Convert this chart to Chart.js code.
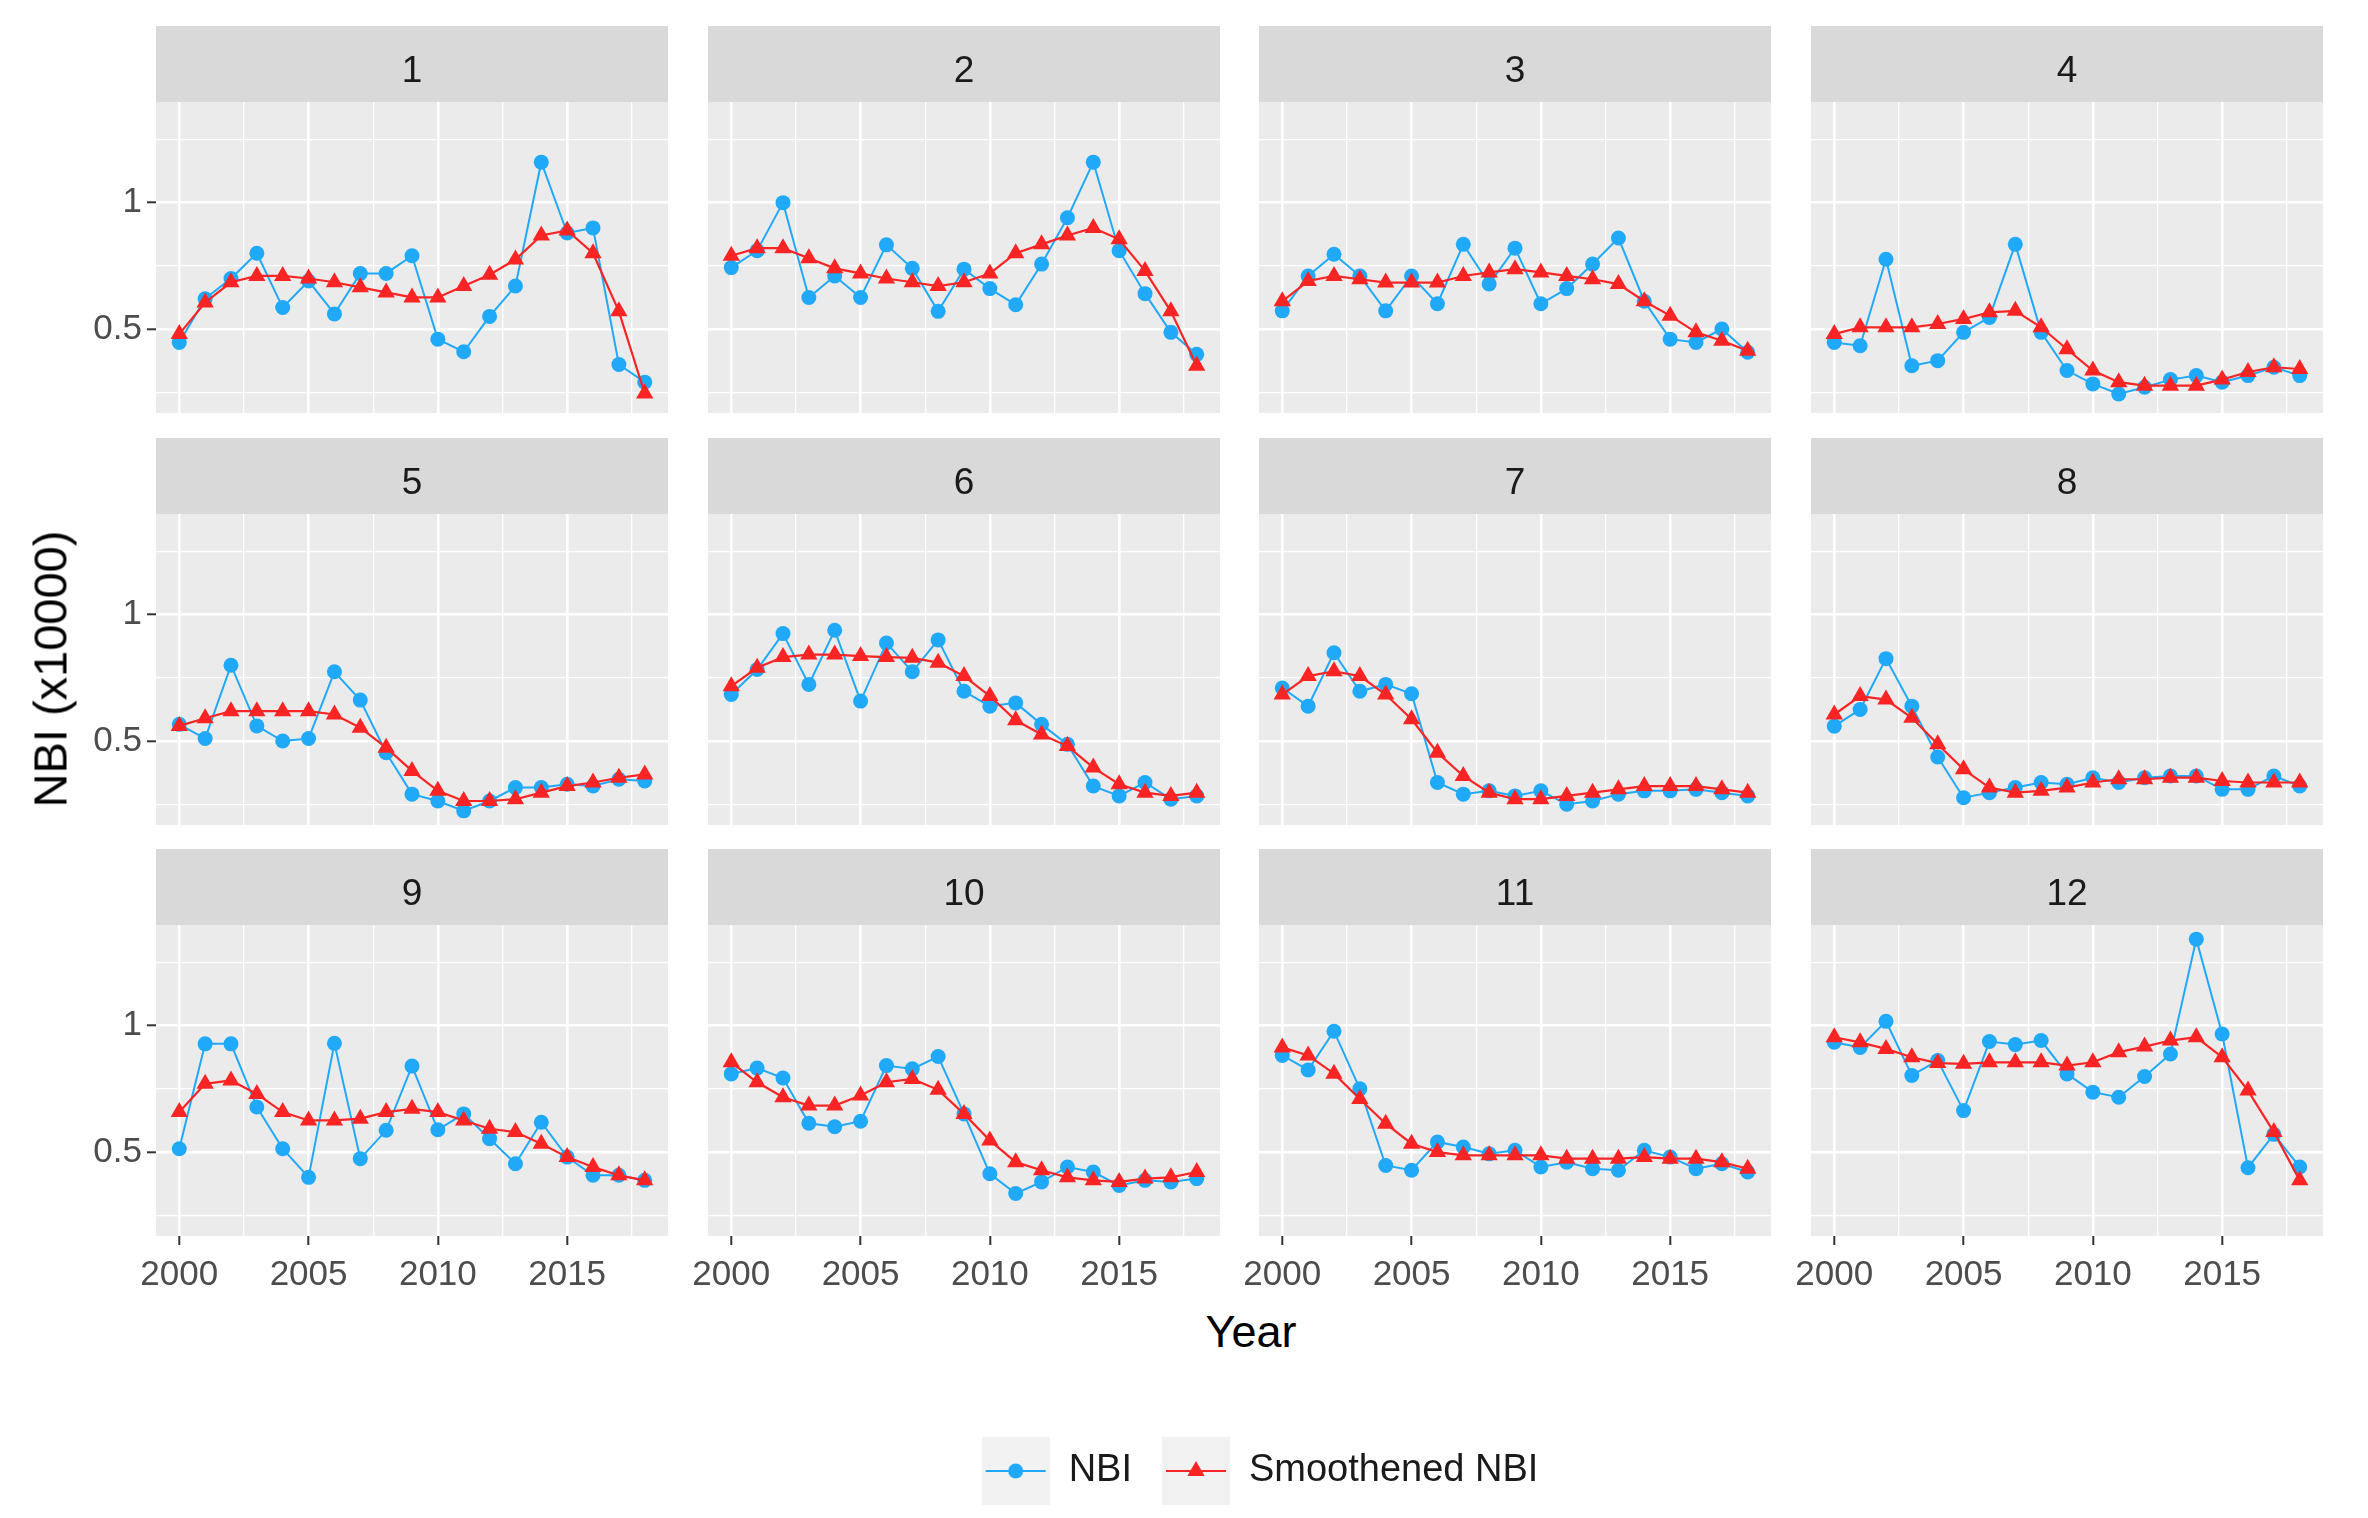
<!DOCTYPE html>
<html>
<head>
<meta charset="utf-8">
<script src="https://cdn.jsdelivr.net/npm/chart.js@4.4.1/dist/chart.umd.min.js"></script>
<style>
  html, body { margin: 0; padding: 0; background: #fff; }
  body { width: 2368px; height: 1518px; position: relative; overflow: hidden; font-family: "Liberation Sans", Arial, sans-serif; }
  .box { position: absolute; }
  .axis-title { position: absolute; font-size: 45px; color: #000; white-space: nowrap; transform: translate(-50%, -50%); }
  #yTitle { font-size: 47px; transform: translate(-50%, -50%) rotate(-90deg); }
</style>
</head>
<body>
<div id="panels"></div>
<div class="axis-title" id="xTitle" style="left:1251px; top:1332px;">Year</div>
<div class="axis-title" id="yTitle" style="left:50px; top:669px;">NBI (x10000)</div>
<div class="box" id="legendBox" style="left:760px; top:1422px; width:1000px; height:200px;"><canvas id="legendChart"></canvas></div>
<script>
// Data: NBI (x10000) per region, 2000-2018
const years = [2000, 2001, 2002, 2003, 2004, 2005, 2006, 2007, 2008, 2009,
               2010, 2011, 2012, 2013, 2014, 2015, 2016, 2017, 2018];
const panelLabels = ['1', '2', '3', '4', '5', '6', '7', '8', '9', '10', '11', '12'];
const seriesLabels = ['NBI', 'Smoothened NBI'];
const xTickValues = [2000, 2002.5, 2005, 2007.5, 2010, 2012.5, 2015, 2017.5];
const xTickLabels = ['2000', '', '2005', '', '2010', '', '2015', ''];
const yTickValues = [0.25, 0.5, 0.75, 1, 1.25];
const yTickLabels = ['', '0.5', '', '1', ''];

const nbiSeries = [
  [0.447, 0.62, 0.70, 0.80, 0.585, 0.69, 0.56, 0.72, 0.72, 0.79, 0.46, 0.41, 0.55, 0.67, 1.16, 0.88, 0.90, 0.36, 0.29],      // 1
  [0.743, 0.81, 1.0, 0.625, 0.71, 0.625, 0.833, 0.74, 0.57, 0.737, 0.66, 0.596, 0.757, 0.94, 1.16, 0.81, 0.64, 0.487, 0.40], // 2
  [0.572, 0.71, 0.796, 0.71, 0.572, 0.71, 0.60, 0.835, 0.678, 0.82, 0.60, 0.66, 0.757, 0.86, 0.61, 0.46, 0.447, 0.50, 0.408], // 3
  [0.447, 0.434, 0.776, 0.355, 0.375, 0.487, 0.546, 0.835, 0.487, 0.336, 0.283, 0.243, 0.27, 0.30, 0.316, 0.29, 0.316, 0.349, 0.316], // 4
  [0.566, 0.51, 0.80, 0.56, 0.50, 0.51, 0.774, 0.662, 0.454, 0.29, 0.263, 0.224, 0.263, 0.316, 0.316, 0.329, 0.322, 0.349, 0.342], // 5
  [0.684, 0.783, 0.925, 0.724, 0.938, 0.658, 0.888, 0.774, 0.90, 0.697, 0.638, 0.651, 0.566, 0.487, 0.322, 0.283, 0.336, 0.27, 0.283], // 6
  [0.71, 0.638, 0.849, 0.697, 0.724, 0.687, 0.336, 0.29, 0.303, 0.283, 0.303, 0.25, 0.263, 0.29, 0.303, 0.303, 0.309, 0.296, 0.283], // 7
  [0.559, 0.625, 0.826, 0.638, 0.437, 0.276, 0.296, 0.316, 0.336, 0.329, 0.355, 0.336, 0.355, 0.362, 0.362, 0.309, 0.309, 0.362, 0.322], // 8
  [0.513, 0.928, 0.928, 0.678, 0.513, 0.40, 0.93, 0.474, 0.586, 0.84, 0.588, 0.651, 0.553, 0.454, 0.618, 0.48, 0.408, 0.408, 0.388], // 9
  [0.809, 0.832, 0.793, 0.614, 0.60, 0.622, 0.842, 0.829, 0.878, 0.651, 0.414, 0.336, 0.382, 0.441, 0.421, 0.368, 0.388, 0.382, 0.395], // 10
  [0.882, 0.825, 0.978, 0.75, 0.447, 0.428, 0.54, 0.52, 0.493, 0.507, 0.441, 0.46, 0.434, 0.428, 0.507, 0.48, 0.434, 0.454, 0.421], // 11
  [0.934, 0.914, 1.017, 0.803, 0.862, 0.664, 0.937, 0.925, 0.941, 0.809, 0.737, 0.717, 0.799, 0.888, 1.342, 0.967, 0.438, 0.57, 0.441] // 12
];

const smoothSeries = [
  [0.48, 0.605, 0.685, 0.71, 0.71, 0.70, 0.685, 0.665, 0.645, 0.625, 0.625, 0.67, 0.715, 0.775, 0.87, 0.89, 0.80, 0.57, 0.245], // 1
  [0.79, 0.82, 0.82, 0.78, 0.74, 0.72, 0.70, 0.685, 0.67, 0.685, 0.72, 0.80, 0.835, 0.87, 0.90, 0.855, 0.73, 0.57, 0.355],       // 2
  [0.61, 0.69, 0.71, 0.697, 0.684, 0.684, 0.684, 0.71, 0.724, 0.737, 0.724, 0.71, 0.697, 0.678, 0.61, 0.553, 0.487, 0.454, 0.414], // 3
  [0.48, 0.507, 0.507, 0.507, 0.52, 0.54, 0.566, 0.572, 0.507, 0.42, 0.336, 0.29, 0.276, 0.276, 0.276, 0.30, 0.33, 0.349, 0.342], // 4
  [0.56, 0.59, 0.618, 0.618, 0.618, 0.618, 0.605, 0.553, 0.474, 0.382, 0.303, 0.263, 0.263, 0.27, 0.296, 0.322, 0.336, 0.355, 0.368], // 5
  [0.717, 0.79, 0.832, 0.842, 0.842, 0.836, 0.832, 0.829, 0.81, 0.757, 0.678, 0.582, 0.526, 0.48, 0.395, 0.329, 0.296, 0.283, 0.296], // 6
  [0.684, 0.757, 0.776, 0.757, 0.684, 0.586, 0.454, 0.362, 0.296, 0.27, 0.27, 0.283, 0.296, 0.309, 0.322, 0.322, 0.322, 0.309, 0.296], // 7
  [0.605, 0.678, 0.664, 0.592, 0.487, 0.388, 0.316, 0.296, 0.303, 0.316, 0.336, 0.349, 0.349, 0.355, 0.355, 0.342, 0.336, 0.336, 0.336], // 8
  [0.658, 0.77, 0.783, 0.73, 0.658, 0.625, 0.625, 0.632, 0.658, 0.671, 0.658, 0.625, 0.592, 0.579, 0.533, 0.48, 0.441, 0.408, 0.388], // 9
  [0.855, 0.776, 0.717, 0.684, 0.684, 0.724, 0.776, 0.789, 0.746, 0.651, 0.546, 0.46, 0.428, 0.40, 0.388, 0.382, 0.395, 0.40, 0.421], // 10
  [0.914, 0.882, 0.81, 0.71, 0.612, 0.533, 0.50, 0.487, 0.487, 0.487, 0.487, 0.474, 0.474, 0.474, 0.48, 0.474, 0.474, 0.46, 0.434], // 11
  [0.954, 0.934, 0.908, 0.875, 0.852, 0.849, 0.855, 0.855, 0.855, 0.842, 0.855, 0.895, 0.917, 0.941, 0.954, 0.875, 0.743, 0.579, 0.388] // 12
];

const BLUE = '#21A9F9';
const RED = '#FA2424';
const FONT = '"Liberation Sans", Arial, sans-serif';

// facet layout, pixels
const colLeft = [156, 708, 1259, 1811];
const rowTop = [26, 438, 849];
const plotW = 512, plotH = 311, stripH = 76;
const yAxisW = 72, xAxisH = 62, sidePad = 20;

Chart.defaults.font.family = FONT;

const toPoints = vals => vals.map((v, i) => ({ x: years[i], y: v }));
const isMajorX = v => xTickLabels[xTickValues.indexOf(v)] !== '';
const isMajorY = v => yTickLabels[yTickValues.indexOf(v)] !== '';

// grey panel and strip backgrounds
const panelBackground = {
  id: 'panelBackground',
  beforeDraw(chart) {
    const { ctx, chartArea: a } = chart;
    ctx.save();
    ctx.fillStyle = '#EBEBEB';
    ctx.fillRect(a.left, a.top, a.right - a.left, a.bottom - a.top);
    const t = chart.titleBlock;
    if (t) {
      ctx.fillStyle = '#D9D9D9';
      ctx.fillRect(a.left, t.top, a.right - a.left, t.bottom - t.top);
    }
    ctx.restore();
  }
};

const panelsDiv = document.getElementById('panels');

panelLabels.forEach((label, i) => {
  const col = i % 4, row = Math.floor(i / 4);
  const showY = col === 0, showX = row === 2;
  const left = colLeft[col] - sidePad - (showY ? yAxisW : 0);
  const width = plotW + 2 * sidePad + (showY ? yAxisW : 0);
  const height = stripH + plotH + (showX ? xAxisH : 0);

  const box = document.createElement('div');
  box.className = 'box';
  box.style.left = left + 'px';
  box.style.top = rowTop[row] + 'px';
  box.style.width = width + 'px';
  box.style.height = height + 'px';
  const canvas = document.createElement('canvas');
  box.appendChild(canvas);
  panelsDiv.appendChild(box);

  new Chart(canvas, {
    type: 'line',
    data: {
      datasets: [
        {
          label: seriesLabels[1],
          data: toPoints(smoothSeries[i]),
          borderColor: RED,
          backgroundColor: RED,
          borderWidth: 2.2,
          pointStyle: 'triangle',
          pointRadius: 10,
          pointBorderWidth: 0,
          order: 1
        },
        {
          label: seriesLabels[0],
          data: toPoints(nbiSeries[i]),
          borderColor: BLUE,
          backgroundColor: BLUE,
          borderWidth: 2,
          pointStyle: 'circle',
          pointRadius: 7.5,
          pointBorderWidth: 0,
          order: 2
        }
      ]
    },
    options: {
      responsive: true,
      maintainAspectRatio: false,
      animation: false,
      layout: { padding: { left: sidePad, right: sidePad, top: 0, bottom: 0 }, autoPadding: false },
      plugins: {
        legend: { display: false },
        tooltip: { enabled: false },
        title: {
          display: true,
          text: label,
          fullSize: false,
          color: '#1A1A1A',
          font: { family: FONT, size: 37, weight: 'normal', lineHeight: 1.2 },
          padding: { top: 24, bottom: 7.6 }
        }
      },
      scales: {
        x: {
          type: 'linear',
          min: 1999.1,
          max: 2018.9,
          afterBuildTicks: s => { s.ticks = xTickValues.map(v => ({ value: v })); },
          afterFit: s => { s.height = showX ? xAxisH : 0; s.paddingLeft = 0; s.paddingRight = 0; },
          border: { display: false },
          grid: {
            color: '#FFFFFF',
            lineWidth: c => (c.tick && isMajorX(c.tick.value)) ? 2.6 : 1.3,
            drawTicks: showX,
            tickLength: 9,
            tickWidth: 2,
            tickColor: c => (c.tick && isMajorX(c.tick.value)) ? '#333333' : 'rgba(0,0,0,0)'
          },
          ticks: {
            display: showX,
            autoSkip: false,
            maxRotation: 0,
            minRotation: 0,
            padding: 9,
            color: '#4D4D4D',
            font: { family: FONT, size: 35 },
            callback: v => xTickLabels[xTickValues.indexOf(v)] || ''
          }
        },
        y: {
          type: 'linear',
          min: 0.168,
          max: 1.398,
          afterBuildTicks: s => { s.ticks = yTickValues.map(v => ({ value: v })); },
          afterFit: s => { s.width = showY ? yAxisW : 0; s.paddingTop = 0; s.paddingBottom = 0; },
          border: { display: false },
          grid: {
            color: '#FFFFFF',
            lineWidth: c => (c.tick && isMajorY(c.tick.value)) ? 2.6 : 1.3,
            drawTicks: showY,
            tickLength: 9,
            tickWidth: 2,
            tickColor: c => (c.tick && isMajorY(c.tick.value)) ? '#333333' : 'rgba(0,0,0,0)'
          },
          ticks: {
            display: showY,
            autoSkip: false,
            padding: 5,
            color: '#4D4D4D',
            font: { family: FONT, size: 35 },
            callback: v => yTickLabels[yTickValues.indexOf(v)] || ''
          }
        }
      }
    },
    plugins: [panelBackground]
  });
});

// legend keys: grey square with the line and its marker, like ggplot
function makeKey(color, shape) {
  const s = 68;
  const c = document.createElement('canvas');
  c.width = s; c.height = s;
  const g = c.getContext('2d');
  g.fillStyle = '#F2F2F2';
  g.fillRect(0, 0, s, s);
  g.strokeStyle = color;
  g.lineWidth = 2.2;
  g.beginPath(); g.moveTo(4, s / 2); g.lineTo(s - 4, s / 2); g.stroke();
  g.fillStyle = color;
  g.beginPath();
  if (shape === 'circle') {
    g.arc(s / 2, s / 2, 7.5, 0, Math.PI * 2);
  } else {
    const r = 10;
    g.moveTo(s / 2, s / 2 - r);
    g.lineTo(s / 2 + r * Math.sin(Math.PI * 2 / 3), s / 2 + r / 2);
    g.lineTo(s / 2 - r * Math.sin(Math.PI * 2 / 3), s / 2 + r / 2);
    g.closePath();
  }
  g.fill();
  return c;
}
const legendKeys = [makeKey(BLUE, 'circle'), makeKey(RED, 'triangle')];

// the legend clips to its own box; give the tall keys a little room below
const legendRoom = {
  id: 'legendRoom',
  beforeDraw(chart) {
    const lg = chart.legend;
    if (lg) lg.bottom = lg.top + lg.height + 20;
  }
};

new Chart(document.getElementById('legendChart'), {
  type: 'line',
  data: { datasets: seriesLabels.map(l => ({ label: l, data: [] })) },
  options: {
    responsive: true,
    maintainAspectRatio: false,
    animation: false,
    scales: { x: { display: false }, y: { display: false } },
    plugins: {
      tooltip: { enabled: false },
      legend: {
        position: 'top',
        align: 'center',
        labels: {
          usePointStyle: true,
          pointStyleWidth: 68,
          padding: 30,
          color: '#1A1A1A',
          font: { family: FONT, size: 38 },
          generateLabels: () => seriesLabels.map((l, i) => ({
            text: l,
            pointStyle: legendKeys[i],
            fillStyle: 'rgba(0,0,0,0)',
            strokeStyle: 'rgba(0,0,0,0)',
            lineWidth: 0,
            hidden: false,
            datasetIndex: i,
            fontColor: '#1A1A1A'
          }))
        }
      }
    }
  },
  plugins: [legendRoom]
});
</script>
</body>
</html>
